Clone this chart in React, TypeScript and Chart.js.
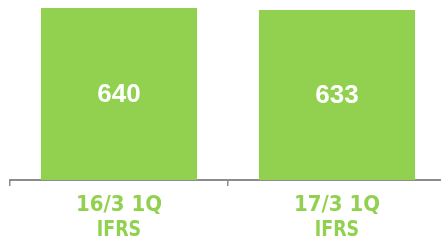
import React, { useEffect, useRef } from "react";
import { Chart, registerables } from "chart.js";

Chart.register(...registerables);

const categories: string[] = ["16/3 1Q", "17/3 1Q"];
const subLabels: string[] = ["IFRS", "IFRS"];
const values: number[] = [640, 633];
const yMax = 640;

const GREEN = "#92d050";
const AXIS = "#8c8c8c";
const LABEL_FONT = "'DejaVu Sans Condensed', 'DejaVu Sans', sans-serif";

const valueLabels = {
  id: "valueLabels",
  afterDatasetsDraw(chart: any) {
    const ctx = chart.ctx;
    const meta = chart.getDatasetMeta(0);
    ctx.save();
    ctx.fillStyle = "#ffffff";
    ctx.font = "bold 26px 'Liberation Sans', Arial, sans-serif";
    ctx.textAlign = "center";
    ctx.textBaseline = "middle";
    meta.data.forEach((bar: any, i: number) => {
      const { x, y, base } = bar.getProps(["x", "y", "base"], true);
      ctx.fillText(String(chart.data.datasets[0].data[i]), x, (y + base) / 2 + 1);
    });
    ctx.restore();
  },
  afterDraw(chart: any) {
    const ctx = chart.ctx;
    const xs = chart.scales.x;
    const bottom = xs.top;
    ctx.save();
    ctx.fillStyle = GREEN;
    ctx.textAlign = "center";
    ctx.textBaseline = "alphabetic";
    categories.forEach((c, i) => {
      const x = xs.getPixelForTick(i);
      ctx.font = `bold 22px ${LABEL_FONT}`;
      ctx.fillText(c, x, bottom + 31);
      ctx.save();
      ctx.translate(x, bottom + 56);
      ctx.scale(0.88, 1);
      ctx.fillText(subLabels[i], 0, 0);
      ctx.restore();
    });
    ctx.restore();
  },
};

export default function App() {
  const ref = useRef<HTMLCanvasElement | null>(null);
  useEffect(() => {
    if (!ref.current) return;
    const chart = new Chart(ref.current, {
      type: "bar",
      data: {
        labels: categories,
        datasets: [
          {
            data: values,
            backgroundColor: GREEN,
            borderWidth: 0,
            barPercentage: 0.716,
            categoryPercentage: 1,
          },
        ],
      },
      options: {
        responsive: false,
        animation: false,
        layout: { padding: { left: 10, right: 14, top: 8, bottom: 0 } },
        plugins: { legend: { display: false }, tooltip: { enabled: false } },
        scales: {
          x: {
            grid: {
              display: true,
              drawOnChartArea: false,
              drawTicks: true,
              tickLength: 6,
              color: AXIS,
              lineWidth: 1.5,
              offset: true,
            },
            border: { display: true, color: AXIS, width: 2 },
            ticks: { display: false },
            afterFit(scale: any) {
              scale.height = 66;
            },
          },
          y: {
            display: false,
            min: 0,
            max: yMax,
          },
        },
      },
      plugins: [valueLabels],
    });
    return () => chart.destroy();
  }, []);
  return (
    <div style={{ position: "fixed", left: 0, top: 0, width: 441, height: 246, overflow: "hidden", background: "#fff" }}>
      <canvas ref={ref} width={460} height={246} style={{ display: "block" }} />
    </div>
  );
}
